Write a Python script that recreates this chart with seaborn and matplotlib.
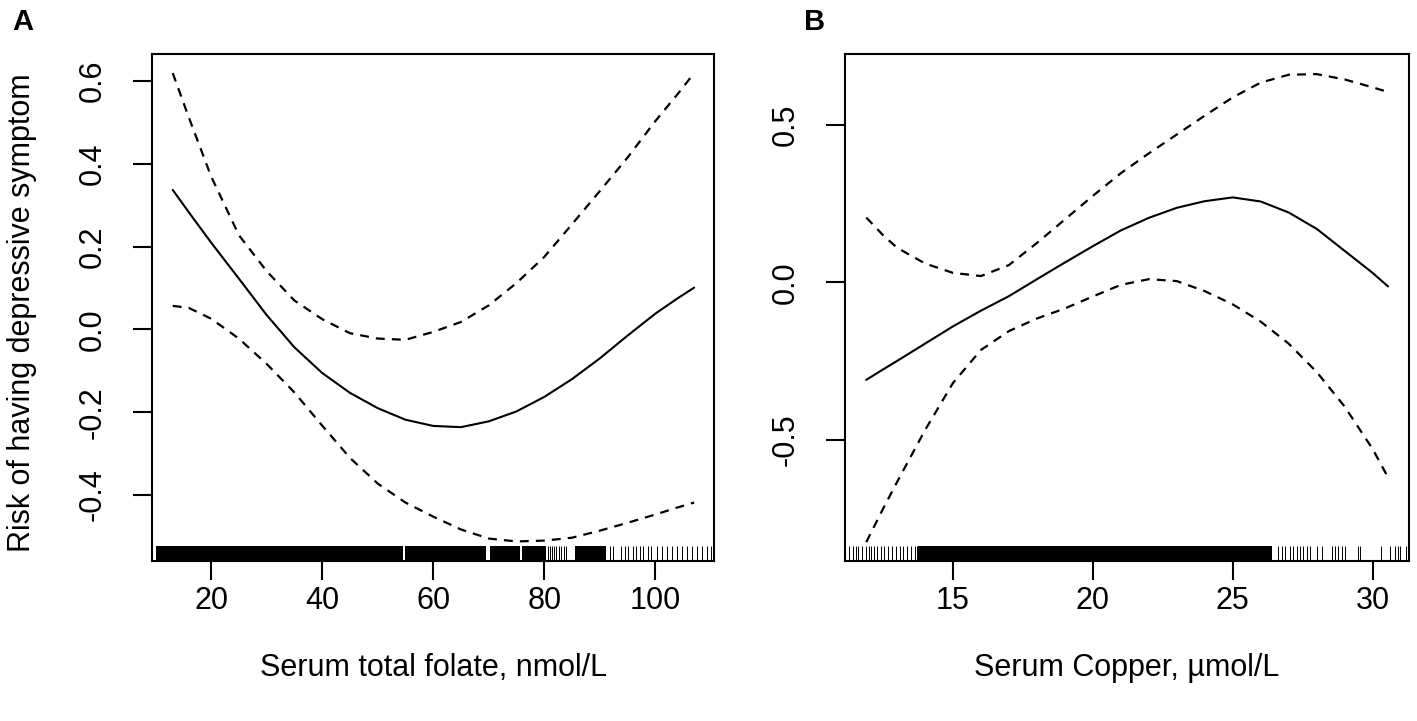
import numpy as np
import pandas as pd
import matplotlib
matplotlib.use("Agg")
import matplotlib.pyplot as plt
import seaborn as sns

# ---- panel A: serum total folate ----
folate_x = [13.1, 16, 20, 25, 30, 35, 40, 45, 50, 55, 60, 65, 70, 75, 80, 85, 90, 95, 100, 104, 107]
folate_fit = [0.337, 0.283, 0.21, 0.123, 0.035, -0.043, -0.105, -0.153, -0.19, -0.218, -0.233, -0.236,
              -0.222, -0.198, -0.163, -0.12, -0.07, -0.015, 0.038, 0.075, 0.101]
folate_upper = [0.619, 0.512, 0.37, 0.228, 0.141, 0.07, 0.025, -0.009, -0.022, -0.025, -0.006, 0.018,
                0.058, 0.112, 0.175, 0.254, 0.334, 0.415, 0.503, 0.568, 0.619]
folate_lower = [0.057, 0.052, 0.026, -0.022, -0.083, -0.152, -0.232, -0.31, -0.372, -0.418, -0.452, -0.483,
                -0.505, -0.512, -0.51, -0.503, -0.486, -0.467, -0.447, -0.43, -0.418]
# rug: solid blocks of observations + single ticks
folate_rug_blocks = [(10.1, 54.5), (54.9, 69.6), (70.3, 75.6), (76.0, 80.4), (85.5, 91.2)]
folate_rug_ticks = [80.6, 81.0, 81.4, 81.8, 82.2, 82.7, 83.1, 83.5, 83.9, 91.9, 92.3,
                    93.9, 94.5, 95.1, 96.0, 96.6, 97.2, 97.8, 98.7, 99.3, 100.4, 101.3, 102.2,
                    103.1, 104.0, 104.9, 105.8, 106.7, 107.6, 108.5, 109.4, 110.1]

# ---- panel B: serum copper ----
copper_x = [11.9, 12.5, 13, 14, 15, 16, 17, 18, 19, 20, 21, 22, 23, 24, 25, 26, 27, 28, 29, 30, 30.55]
copper_fit = [-0.31, -0.277, -0.25, -0.195, -0.14, -0.09, -0.044, 0.01, 0.063, 0.115, 0.165, 0.205,
              0.237, 0.258, 0.27, 0.257, 0.222, 0.17, 0.1, 0.03, -0.013]
copper_upper = [0.206, 0.15, 0.11, 0.06, 0.03, 0.02, 0.055, 0.125, 0.2, 0.275, 0.347, 0.41,
                0.47, 0.53, 0.588, 0.635, 0.66, 0.662, 0.645, 0.62, 0.605]
copper_lower = [-0.826, -0.72, -0.635, -0.47, -0.32, -0.215, -0.155, -0.115, -0.083, -0.045, -0.008, 0.01,
                0.004, -0.028, -0.07, -0.125, -0.195, -0.285, -0.395, -0.53, -0.62]
copper_rug_blocks = [(13.76, 26.4)]
copper_rug_ticks = [11.28, 11.41, 11.52, 11.61, 11.75, 11.88, 11.99, 12.08, 12.19, 12.28, 12.42,
                    12.55, 12.68, 12.82, 12.96, 13.09, 13.23, 13.36, 13.49, 13.63, 13.72,
                    26.63, 26.75, 26.87, 27.05, 27.17, 27.29, 27.40, 27.52, 27.64, 27.76, 28.0,
                    28.18, 28.54, 28.65, 28.77, 28.89, 29.01, 29.49, 29.55, 30.30, 30.62, 30.80,
                    30.89, 30.98, 31.21]

sns.set_style("ticks")
plt.rcParams["font.family"] = ["Liberation Sans", "DejaVu Sans"]
plt.rcParams["axes.unicode_minus"] = False
plt.rcParams["text.color"] = "black"
plt.rcParams["axes.labelcolor"] = "black"
plt.rcParams["xtick.color"] = "black"
plt.rcParams["ytick.color"] = "black"

fig = plt.figure(figsize=(14.17, 7.21), dpi=100)
W, H = 1417, 721
axA = fig.add_axes([152.3 / W, 1 - 560.7 / H, (714.3 - 152.3) / W, (560.7 - 54.3) / H])
axB = fig.add_axes([845 / W, 1 - 561 / H, (1409 - 845) / W, (561 - 54.3) / H])

dash = (0, (4, 3.2))


def draw_panel(ax, x, fit, upper, lower, blocks, ticks):
    df = pd.DataFrame({"x": x, "fit": fit, "upper": upper, "lower": lower})
    sns.lineplot(data=df, x="x", y="fit", color="black", linewidth=1.5, ax=ax)
    sns.lineplot(data=df, x="x", y="upper", color="black", linewidth=1.6, linestyle=dash, ax=ax)
    sns.lineplot(data=df, x="x", y="lower", color="black", linewidth=1.6, linestyle=dash, ax=ax)
    for a, b in blocks:
        ax.axvspan(a, b, ymin=0, ymax=0.03, color="black", lw=0)
    sns.rugplot(x=ticks, height=0.03, color="black", linewidth=0.7, ax=ax, expand_margins=False)
    for s in ax.spines.values():
        s.set_linewidth(1.5)
        s.set_color("black")
    ax.tick_params(direction="out", length=14, width=1.5, labelsize=22, color="black", labelcolor="black")
    ax.tick_params(axis="x", pad=4)
    ax.tick_params(axis="y", pad=18)
    ax.set_ylabel("")


draw_panel(axA, folate_x, folate_fit, folate_upper, folate_lower, folate_rug_blocks, folate_rug_ticks)
axA.set_xlim(9.42, 110.63)
axA.set_ylim(-0.5585, 0.6645)
axA.set_xticks([20, 40, 60, 80, 100])
axA.set_yticks([-0.4, -0.2, 0.0, 0.2, 0.4, 0.6])
axA.set_yticklabels(["-0.4", "-0.2", "0.0", "0.2", "0.4", "0.6"], rotation=90, va="center")
axA.set_xlabel("Serum total folate, nmol/L", fontsize=22)
axA.xaxis.set_label_coords(0.5, (560.7 - 668) / 506.4)
axA.xaxis.label.set_va("center")
axA.set_ylabel("Risk of having depressive symptom", fontsize=22)
axA.yaxis.set_label_coords((22 - 152.3) / 562, 0.49)
axA.yaxis.label.set_va("center")

draw_panel(axB, copper_x, copper_fit, copper_upper, copper_lower, copper_rug_blocks, copper_rug_ticks)
axB.set_xlim(11.14, 31.3)
axB.set_ylim(-0.886, 0.725)
axB.set_xticks([15, 20, 25, 30])
axB.set_yticks([-0.5, 0.0, 0.5])
axB.set_yticklabels(["-0.5", "0.0", "0.5"], rotation=90, va="center")
axB.set_xlabel("Serum Copper, \u00b5mol/L", fontsize=22)
axB.xaxis.set_label_coords(0.5, (561 - 668) / 506.7)
axB.xaxis.label.set_va("center")

fig.text(12 / W, 1 - 30 / H, "A", fontsize=21, fontweight="bold", va="baseline")
fig.text(804 / W, 1 - 30 / H, "B", fontsize=21, fontweight="bold", va="baseline")

fig.savefig("out.png", dpi=100)
